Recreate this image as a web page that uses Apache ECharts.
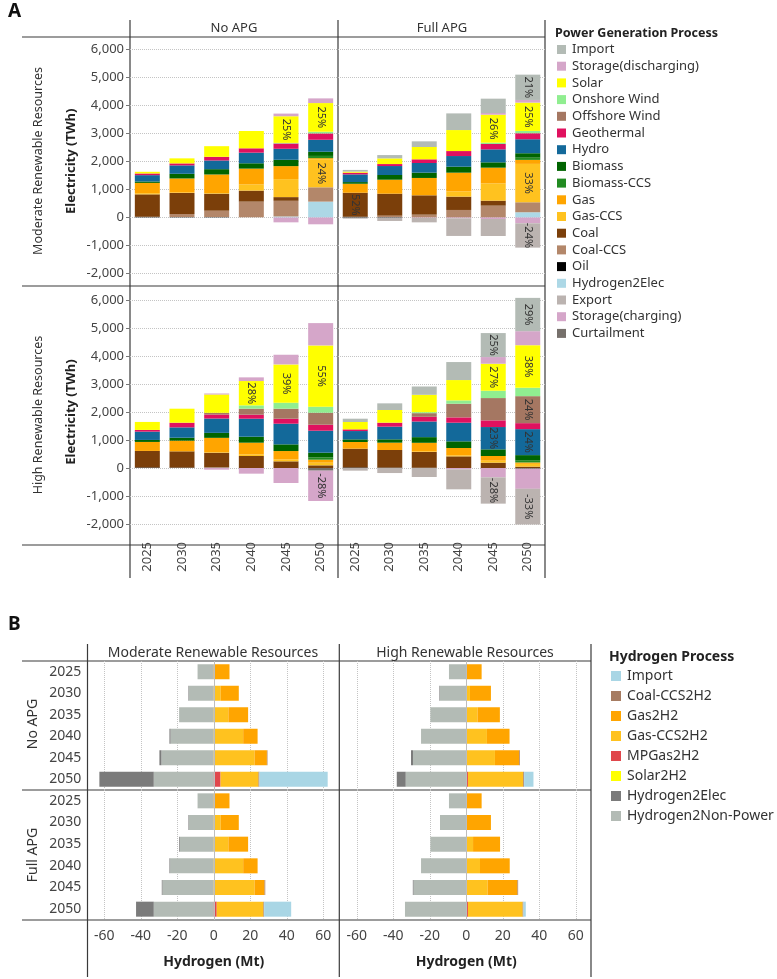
<!DOCTYPE html>
<html>
<head>
<meta charset="utf-8">
<script src="https://cdn.jsdelivr.net/npm/echarts@6/dist/echarts.min.js"></script>
<style>
  html, body { margin: 0; padding: 0; background: #fff; }
  #chart { width: 777px; height: 979px; }
</style>
</head>
<body>
<div id="chart"></div>
<script>
const years = ['2025', '2030', '2035', '2040', '2045', '2050'];

// ---- A: power generation (TWh), legend order (stack order is the reverse)
const powerLegend = ['Import', 'Storage(discharging)', 'Solar', 'Onshore Wind', 'Offshore Wind',
  'Geothermal', 'Hydro', 'Biomass', 'Biomass-CCS', 'Gas', 'Gas-CCS', 'Coal', 'Coal-CCS', 'Oil',
  'Hydrogen2Elec', 'Export', 'Storage(charging)', 'Curtailment'];

const mrNoApg = {
  'Import':               [0, 0, 0, 0, 0, 0],
  'Storage(discharging)': [0, 0, 0, 0, 95, 167],
  'Solar':                [60, 180, 380, 619, 952, 1024],
  'Onshore Wind':         [0, 0, 0, 0, 20, 60],
  'Offshore Wind':        [0, 0, 0, 0, 0, 0],
  'Geothermal':           [60, 71, 131, 155, 190, 226],
  'Hydro':                [226, 300, 310, 380, 393, 428],
  'Biomass':              [50, 167, 190, 190, 226, 150],
  'Biomass-CCS':          [0, 0, 0, 0, 0, 80],
  'Gas':                  [369, 500, 666, 560, 464, 40],
  'Gas-CCS':              [40, 20, 20, 226, 643, 1000],
  'Coal':                 [800, 750, 607, 393, 131, 0],
  'Coal-CCS':             [0, 107, 226, 560, 560, 512],
  'Oil':                  [20, 10, 10, 0, 0, 0],
  'Hydrogen2Elec':        [0, 0, 0, 0, 30, 560],
  'Export':               [0, 0, 0, 0, 0, 0],
  'Storage(charging)':    [0, 0, 0, 0, -180, -250],
  'Curtailment':          [0, 0, 0, 0, 0, 0]
};
const mrFullApg = {
  'Import':               [60, 119, 202, 595, 512, 904],
  'Storage(discharging)': [0, 0, 0, 0, 60, 95],
  'Solar':                [40, 202, 440, 750, 1000, 1011],
  'Onshore Wind':         [0, 0, 0, 0, 48, 83],
  'Offshore Wind':        [0, 0, 0, 0, 0, 0],
  'Geothermal':           [60, 71, 131, 178, 190, 214],
  'Hydro':                [274, 321, 345, 380, 464, 500],
  'Biomass':              [60, 167, 190, 214, 190, 158],
  'Biomass-CCS':          [0, 0, 0, 0, 0, 80],
  'Gas':                  [321, 500, 620, 666, 560, 143],
  'Gas-CCS':              [0, 0, 0, 190, 619, 1370],
  'Coal':                 [857, 785, 690, 476, 178, 0],
  'Coal-CCS':             [0, 48, 95, 262, 416, 357],
  'Oil':                  [20, 10, 0, 0, 0, 0],
  'Hydrogen2Elec':        [0, 0, 0, 0, 0, 180],
  'Export':               [-48, -131, -160, -630, -607, -869],
  'Storage(charging)':    [0, 0, -20, -36, -60, -214],
  'Curtailment':          [0, 0, 0, 0, 0, 0]
};
const hrNoApg = {
  'Import':               [0, 0, 0, 0, 0, 0],
  'Storage(discharging)': [0, 0, 36, 131, 345, 797],
  'Solar':                [286, 500, 655, 869, 1369, 2190],
  'Onshore Wind':         [0, 0, 0, 119, 214, 214],
  'Offshore Wind':        [0, 0, 60, 214, 357, 428],
  'Geothermal':           [60, 167, 143, 143, 178, 214],
  'Hydro':                [297, 369, 512, 643, 738, 785],
  'Biomass':              [71, 107, 178, 214, 238, 170],
  'Biomass-CCS':          [0, 0, 0, 0, 0, 80],
  'Gas':                  [321, 380, 512, 416, 297, 107],
  'Gas-CCS':              [0, 0, 20, 60, 71, 95],
  'Coal':                 [590, 580, 515, 428, 238, 95],
  'Coal-CCS':             [0, 0, 20, 0, 0, 0],
  'Oil':                  [20, 15, 10, 0, 0, 0],
  'Hydrogen2Elec':        [0, 0, 0, 0, 0, 0],
  'Export':               [0, 0, 0, 0, 0, 0],
  'Storage(charging)':    [0, 0, -60, -202, -535, -1083],
  'Curtailment':          [0, 0, 0, 0, 0, -95]
};
const hrFullApg = {
  'Import':               [119, 238, 297, 643, 857, 1190],
  'Storage(discharging)': [0, 0, 0, 0, 238, 500],
  'Solar':                [262, 452, 619, 726, 964, 1523],
  'Onshore Wind':         [0, 0, 36, 119, 262, 297],
  'Offshore Wind':        [0, 0, 131, 488, 797, 964],
  'Geothermal':           [60, 143, 167, 190, 238, 214],
  'Hydro':                [297, 452, 559, 666, 797, 928],
  'Biomass':              [95, 119, 202, 238, 238, 182],
  'Biomass-CCS':          [0, 0, 0, 0, 0, 80],
  'Gas':                  [238, 262, 309, 262, 167, 50],
  'Gas-CCS':              [0, 0, 20, 36, 71, 100],
  'Coal':                 [670, 628, 561, 416, 190, 48],
  'Coal-CCS':             [0, 0, 0, 0, 0, 0],
  'Oil':                  [20, 15, 10, 0, 0, 0],
  'Hydrogen2Elec':        [0, 0, 0, 0, 0, 0],
  'Export':               [-95, -180, -321, -714, -940, -1273],
  'Storage(charging)':    [0, 0, 0, -48, -333, -714],
  'Curtailment':          [0, 0, 0, 0, 0, -30]
};

// share labels written on segments: [panel, process, year index, text]
const pctLabels = [
  ['mrNoApg', 'Solar', 4, '25%'], ['mrNoApg', 'Solar', 5, '25%'], ['mrNoApg', 'Gas-CCS', 5, '24%'],
  ['mrFullApg', 'Coal', 0, '52%'], ['mrFullApg', 'Solar', 4, '26%'], ['mrFullApg', 'Import', 5, '21%'],
  ['mrFullApg', 'Solar', 5, '25%'], ['mrFullApg', 'Gas-CCS', 5, '33%'], ['mrFullApg', 'Export', 5, '-24%'],
  ['hrNoApg', 'Solar', 3, '28%'], ['hrNoApg', 'Solar', 4, '39%'], ['hrNoApg', 'Solar', 5, '55%'],
  ['hrNoApg', 'Storage(charging)', 5, '-28%'],
  ['hrFullApg', 'Import', 4, '25%'], ['hrFullApg', 'Solar', 4, '27%'], ['hrFullApg', 'Hydro', 4, '23%'],
  ['hrFullApg', 'Export', 4, '-28%'], ['hrFullApg', 'Import', 5, '29%'], ['hrFullApg', 'Solar', 5, '38%'],
  ['hrFullApg', 'Offshore Wind', 5, '24%'], ['hrFullApg', 'Hydro', 5, '24%'], ['hrFullApg', 'Export', 5, '-33%']
];

// ---- B: hydrogen (Mt), legend order (stack order is the reverse)
const h2Legend = ['Import', 'Coal-CCS2H2', 'Gas2H2', 'Gas-CCS2H2', 'MPGas2H2', 'Solar2H2',
  'Hydrogen2Elec', 'Hydrogen2Non-Power'];

const h2ModNoApg = {
  'Import':             [0, 0, 0, 0, 0, 37.4],
  'Coal-CCS2H2':        [0, 0, 0, 0, 0.3, 0.5],
  'Gas2H2':             [8.6, 9.9, 10.8, 7.9, 6.8, 0],
  'Gas-CCS2H2':         [0, 3.8, 8.0, 16.1, 22.3, 20.8],
  'MPGas2H2':           [0, 0, 0, 0, 0, 3.7],
  'Solar2H2':           [0, 0, 0, 0, 0, 0],
  'Hydrogen2Elec':      [0, -0.3, 0, -0.6, -1.1, -29.8],
  'Hydrogen2Non-Power': [-8.9, -13.6, -19.0, -23.7, -28.7, -32.9]
};
const h2HighNoApg = {
  'Import':             [0, 0, 0, 0, 0, 5.1],
  'Coal-CCS2H2':        [0, 0, 0, 0, 0.4, 0.5],
  'Gas2H2':             [8.4, 11.5, 12.2, 12.4, 13.3, 0],
  'Gas-CCS2H2':         [0, 2.0, 6.2, 11.3, 15.7, 30.3],
  'MPGas2H2':           [0, 0, 0, 0, 0, 0.9],
  'Solar2H2':           [0, 0, 0, 0, 0, 0],
  'Hydrogen2Elec':      [0, -0.3, 0, 0, -1.1, -4.9],
  'Hydrogen2Non-Power': [-9.5, -14.5, -19.7, -24.8, -29.2, -33.2]
};
const h2ModFullApg = {
  'Import':             [0, 0, 0, 0, 0, 14.8],
  'Coal-CCS2H2':        [0, 0, 0, 0, 0.4, 0.4],
  'Gas2H2':             [8.6, 9.9, 10.8, 7.9, 5.5, 0],
  'Gas-CCS2H2':         [0, 3.8, 8.0, 16.1, 22.3, 25.6],
  'MPGas2H2':           [0, 0, 0, 0, 0, 1.6],
  'Solar2H2':           [0, 0, 0, 0, 0, 0],
  'Hydrogen2Elec':      [0, -0.3, -0.4, -0.4, -0.4, -9.7],
  'Hydrogen2Non-Power': [-8.9, -13.6, -18.6, -23.9, -28.1, -32.9]
};
const h2HighFullApg = {
  'Import':             [0, 0, 0, 0, 0, 1.3],
  'Coal-CCS2H2':        [0, 0, 0, 0, 0.4, 0.4],
  'Gas2H2':             [8.4, 13.5, 14.8, 16.3, 16.3, 0],
  'Gas-CCS2H2':         [0, 0, 3.7, 7.5, 11.7, 30.0],
  'MPGas2H2':           [0, 0, 0, 0, 0, 0.9],
  'Solar2H2':           [0, 0, 0, 0, 0, 0],
  'Hydrogen2Elec':      [0, 0, 0, 0, -0.4, 0],
  'Hydrogen2Non-Power': [-9.5, -14.4, -19.7, -24.8, -28.9, -33.6]
};

const powerColors = {
  'Import': '#b3bbb5', 'Storage(discharging)': '#d5a6c9', 'Solar': '#ffff00',
  'Onshore Wind': '#90ee90', 'Offshore Wind': '#a57762', 'Geothermal': '#e0115f',
  'Hydro': '#13699a', 'Biomass': '#006400', 'Biomass-CCS': '#228b22', 'Gas': '#ffa500',
  'Gas-CCS': '#ffc21f', 'Coal': '#7b3f0a', 'Coal-CCS': '#b3876a', 'Oil': '#000000',
  'Hydrogen2Elec': '#add8e6', 'Export': '#bbb3b0', 'Storage(charging)': '#d5a6c9',
  'Curtailment': '#76706b'
};
const h2Colors = {
  'Import': '#a9d6e5', 'Coal-CCS2H2': '#a67c62', 'Gas2H2': '#ffa500', 'Gas-CCS2H2': '#ffc21f',
  'MPGas2H2': '#e0474c', 'Solar2H2': '#ffff00', 'Hydrogen2Elec': '#7b7b7b',
  'Hydrogen2Non-Power': '#b3bbb5'
};

const FONT = 'Noto Sans';
const TXT = '#333';

const aPanels = [
  { key: 'mrNoApg', table: mrNoApg, left: 130, top: 49.3, width: 208, yLabels: true, xLabels: false },
  { key: 'mrFullApg', table: mrFullApg, left: 338, top: 49.3, width: 207, yLabels: false, xLabels: false },
  { key: 'hrNoApg', table: hrNoApg, left: 130, top: 300, width: 208, yLabels: true, xLabels: true },
  { key: 'hrFullApg', table: hrFullApg, left: 338, top: 300, width: 207, yLabels: false, xLabels: true }
];
const bPanels = [
  { table: h2ModNoApg, left: 104.3, top: 661, height: 129, yLabels: true, xLabels: false },
  { table: h2HighNoApg, left: 356.8, top: 661, height: 129, yLabels: false, xLabels: false },
  { table: h2ModFullApg, left: 104.3, top: 790, height: 130, yLabels: true, xLabels: true },
  { table: h2HighFullApg, left: 356.8, top: 790, height: 130, yLabels: false, xLabels: true }
];

const grid = [], xAxis = [], yAxis = [], series = [];

aPanels.forEach((p, i) => {
  grid.push({ left: p.left, top: p.top, width: p.width, height: 224 });
  xAxis.push({
    type: 'category', gridIndex: i, data: years,
    axisLine: { show: false, onZero: false }, axisTick: { show: false },
    axisLabel: { show: p.xLabels, rotate: 90, margin: 18, fontSize: 13, color: '#444' }
  });
  yAxis.push({
    type: 'value', gridIndex: i, min: -2000, max: 6000, interval: 1000,
    axisLine: { show: false },
    axisTick: { show: p.yLabels, length: 4, lineStyle: { color: '#777' } },
    axisLabel: { show: p.yLabels, fontSize: 13, color: '#444', margin: 6,
      formatter: v => v.toLocaleString('en-US') },
    splitLine: { show: true, lineStyle: { type: 'dotted', color: '#c4c4c4' } },
    name: p.yLabels ? 'Electricity (TWh)' : '', nameLocation: 'middle', nameGap: 52,
    nameTextStyle: { fontWeight: 'bold', fontSize: 13, color: '#222' }
  });
  powerLegend.slice().reverse().forEach(name => {
    const data = p.table[name].map((v, yi) => {
      const hit = pctLabels.find(l => l[0] === p.key && l[1] === name && l[2] === yi);
      if (!hit) return v;
      return { value: v, label: { show: true, formatter: hit[3], rotate: -90, position: 'inside',
        fontSize: 11, color: '#333' } };
    });
    series.push({
      type: 'bar', name, xAxisIndex: i, yAxisIndex: i, stack: 'a' + i, barWidth: 25,
      clip: false, data, itemStyle: { color: powerColors[name] }
    });
  });
});

bPanels.forEach((p, j) => {
  const i = j + 4;
  grid.push({ left: p.left, top: p.top, width: 219, height: p.height });
  xAxis.push({
    type: 'value', gridIndex: i, min: -60, max: 60, interval: 20,
    axisLine: { show: false }, axisTick: { show: false },
    axisLabel: { show: p.xLabels, fontSize: 14, color: '#444', margin: 9 },
    splitLine: { show: true, lineStyle: { type: 'dotted', color: '#c4c4c4' } },
    name: p.xLabels ? 'Hydrogen (Mt)' : '', nameLocation: 'middle', nameGap: 35,
    nameTextStyle: { fontWeight: 'bold', fontSize: 14, color: '#222' }
  });
  yAxis.push({
    type: 'category', gridIndex: i, data: years, inverse: true,
    axisLine: { show: false, onZero: false }, axisTick: { show: false },
    axisLabel: { show: p.yLabels, fontSize: 14, color: '#444', margin: 23 }
  });
  h2Legend.slice().reverse().forEach((name, k) => {
    const s = {
      type: 'bar', name: 'B:' + name, xAxisIndex: i, yAxisIndex: i, stack: 'b' + i, barWidth: 15,
      clip: false, data: p.table[name], itemStyle: { color: h2Colors[name] }
    };
    if (k === 0) {
      s.markLine = { symbol: 'none', silent: true, label: { show: false },
        lineStyle: { color: '#bdbdbd', type: 'solid', width: 1 }, data: [{ xAxis: 0 }] };
    }
    series.push(s);
  });
});

// frame lines of the two trellis tables
const line = (x1, y1, x2, y2) => ({ type: 'line', silent: true,
  shape: { x1, y1, x2, y2 }, style: { stroke: '#3a3a3a', lineWidth: 1.2 } });
const text = (t, x, y, o = {}) => ({ type: 'text', x, y, rotation: o.rot || 0, silent: true,
  style: { text: t, fill: o.fill || TXT, fontFamily: FONT, fontSize: o.size || 13,
    fontWeight: o.bold ? 'bold' : 'normal', align: o.align || 'center', verticalAlign: 'middle' } });

const graphic = [
  line(22, 37, 545, 37), line(22, 286, 545, 286), line(22, 545, 545, 545),
  line(130, 20, 130, 578), line(338, 20, 338, 578), line(545, 20, 545, 578),
  line(22, 661, 591, 661), line(22, 790, 591, 790), line(22, 920, 591, 920),
  line(87.5, 644, 87.5, 977), line(339.3, 644, 339.3, 977), line(591, 644, 591, 977),
  text('A', 8, 12, { size: 19, bold: true, align: 'left', fill: '#111' }),
  text('B', 8, 625, { size: 19, bold: true, align: 'left', fill: '#111' }),
  text('No APG', 234, 28), text('Full APG', 442, 28),
  text('Moderate Renewable Resources', 38, 161, { rot: Math.PI / 2, size: 12.5 }),
  text('High Renewable Resources', 38, 415, { rot: Math.PI / 2, size: 12.5 }),
  text('Power Generation Process', 555, 33, { size: 12.5, bold: true, align: 'left', fill: '#222' }),
  text('Moderate Renewable Resources', 213, 653, { size: 14 }),
  text('High Renewable Resources', 465, 653, { size: 14 }),
  text('No APG', 33, 724, { rot: Math.PI / 2, size: 14 }),
  text('Full APG', 33, 855, { rot: Math.PI / 2, size: 14 }),
  text('Hydrogen Process', 609, 657, { size: 14, bold: true, align: 'left', fill: '#222' })
];

const option = {
  animation: false,
  textStyle: { fontFamily: FONT },
  grid, xAxis, yAxis, series, graphic,
  legend: [
    {
      data: powerLegend, orient: 'vertical', left: 557, top: 43, padding: 0, selectedMode: false,
      icon: 'rect', itemWidth: 9, itemHeight: 9, itemGap: 3.7,
      textStyle: { fontSize: 13, lineHeight: 13, color: TXT, padding: [0, 0, 0, 1] }
    },
    {
      data: h2Legend.map(n => 'B:' + n), orient: 'vertical', left: 611, top: 668, padding: 0,
      selectedMode: false, icon: 'rect', itemWidth: 10, itemHeight: 10, itemGap: 4,
      formatter: n => n.replace(/^B:/, ''),
      textStyle: { fontSize: 14, lineHeight: 16, color: TXT, padding: [0, 0, 0, 1] }
    }
  ]
};

const chart = echarts.init(document.getElementById('chart'));
chart.setOption(option);
</script>
</body>
</html>
